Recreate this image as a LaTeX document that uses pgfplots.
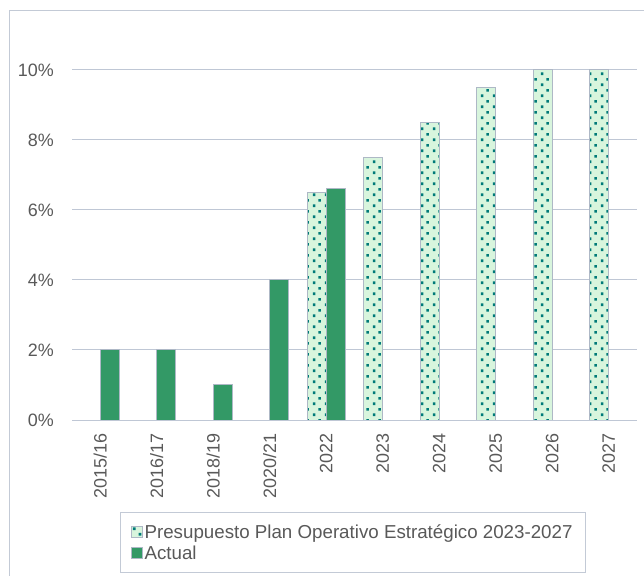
\documentclass[border=0pt]{standalone}
\usepackage{fontspec}
\setmainfont{Liberation Sans}
\usepackage{pgfplots}
\pgfplotsset{compat=1.18}
\usetikzlibrary{patterns}
\definecolor{txt}{HTML}{595959}
\definecolor{gridc}{HTML}{BFC7D5}
\definecolor{framec}{HTML}{C3CAD6}
\definecolor{actual}{HTML}{339966}
\definecolor{budfill}{HTML}{D8F5DD}
\definecolor{dotc}{HTML}{007A78}
\definecolor{barb}{HTML}{AEB8C6}
\pgfdeclarepatternformonly{sqdots}{\pgfpointorigin}{\pgfqpoint{12bp}{11.4bp}}{\pgfqpoint{12bp}{11.4bp}}{%
  \pgfpathrectangle{\pgfqpoint{1bp}{1bp}}{\pgfqpoint{2.7bp}{2.7bp}}%
  \pgfpathrectangle{\pgfqpoint{7bp}{6.7bp}}{\pgfqpoint{2.7bp}{2.7bp}}%
  \pgfusepath{fill}}
\newcommand{\lblfont}{\fontsize{18}{21}\selectfont}
\newcommand{\legfont}{\fontsize{18.8}{21}\selectfont}
\begin{document}
\begin{tikzpicture}
\begin{axis}[
  at={(72bp,156bp)}, anchor=south west,
  scale only axis, width=565bp, height=350bp,
  xmin=-0.5, xmax=9.5, ymin=0, ymax=10,
  axis line style={draw=none},
  major tick length=0pt,
  ytick={0,2,...,10},
  yticklabel={\pgfmathprintnumber{\tick}\%},
  xtick={0,...,9},
  xticklabels={2015/16,2016/17,2018/19,2020/21,2022,2023,2024,2025,2026,2027},
  xticklabel style={rotate=90, anchor=east, inner sep=0pt, xshift=-13bp},
  yticklabel style={inner sep=0pt, xshift=-18bp},
  tick label style={font=\lblfont, text=txt},
  /pgf/number format/assume math mode=true,
  ymajorgrids, grid style={gridc, line width=1bp},
  ybar, bar width=19bp,
  legend style={at={(0.497,-0.263)}, anchor=north, draw=framec, line width=1bp,
    font=\legfont, text=txt, inner xsep=11bp, inner ysep=10bp, row sep=2bp},
  legend cell align=left,
  legend image code/.code={\draw[#1, line width=0.5bp] (0bp,-5bp) rectangle (11bp,6bp);},
]
\addplot[fill=budfill, draw=barb, line width=1bp, bar shift=-9.5bp,
  postaction={pattern=sqdots, pattern color=dotc}]
  coordinates {(4,6.5) (5,7.5) (6,8.5) (7,9.5) (8,10) (9,10)};
\addplot[fill=actual, draw=barb, line width=1bp, bar shift=9.5bp]
  coordinates {(0,2) (1,2) (2,1) (3,4) (4,6.6)};
\legend{Presupuesto Plan Operativo Estratégico 2023-2027, Actual}
\end{axis}
\draw[framec, line width=1bp] (9.5bp,0bp) -- (9.5bp,565bp) -- (644bp,565bp);
\pgfresetboundingbox
\useasboundingbox (0bp,0bp) rectangle (644bp,576bp);
\end{tikzpicture}
\end{document}
